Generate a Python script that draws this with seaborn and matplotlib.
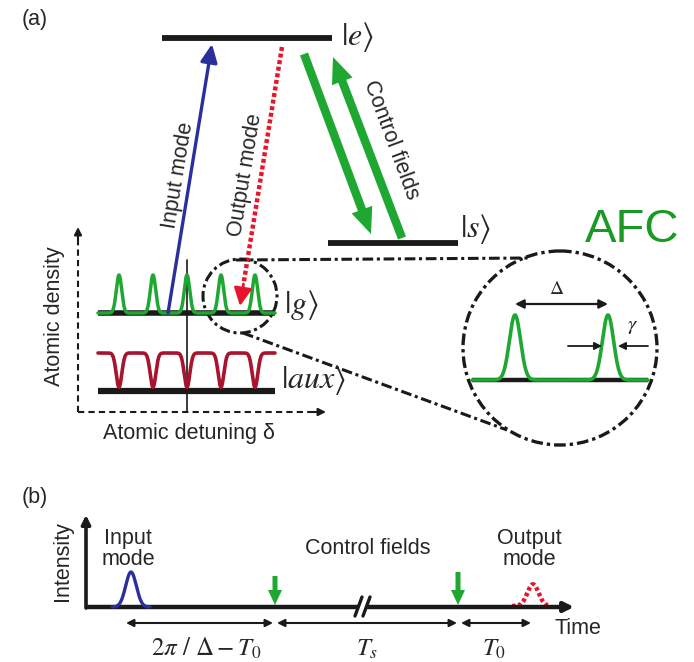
import numpy as np
import matplotlib
matplotlib.use("Agg")
import matplotlib.pyplot as plt
import seaborn as sns
from matplotlib.patches import Circle, FancyArrow

# ---------------- data ----------------
comb_teeth = [-2, -1, 0, 1, 2]          # AFC tooth detunings (units of Delta)
comb_tooth_height = 1.0                 # relative atomic density of a tooth
aux_dip_depth = 0.9                     # relative depth of the |aux> holes
zoom_teeth = [0, 1]                     # two teeth shown in the magnifier
input_pulse_height = 1.0                # panel (b) relative intensities
output_pulse_height = 0.62
level_labels = [r"$|e\rangle$", r"$|s\rangle$", r"$|g\rangle$", r"$|aux\rangle$"]
pulse_labels = ["Input\nmode", "Control fields", "Output\nmode"]
interval_labels = [r"$2\pi\ /\ \Delta - T_0$", r"$T_s$", r"$T_0$"]

# ---------------- style ----------------
sns.set_theme(style="white")
plt.rcParams["font.family"] = ["Liberation Sans", "DejaVu Sans"]
plt.rcParams["mathtext.fontset"] = "stix"

GREEN = "#1ea832"
GREEN_T = "#1a9a22"
BLUE = "#2b2f9c"
RED = "#e8142c"
DRED = "#a8142e"
FS = 15.5

fig = plt.figure(figsize=(6.94, 6.62), dpi=100)
ax = fig.add_axes([0, 0, 1, 1])
ax.set_xlim(0, 694)
ax.set_ylim(662, 0)
ax.axis("off")


def gauss_sum(centers, x0, x1, sigma, n=800):
    x = np.linspace(x0, x1, n)
    y = np.zeros_like(x)
    for c in centers:
        y += np.exp(-0.5 * ((x - c) / sigma) ** 2)
    return x, y


def block_arrow(x0, y0, x1, y1, w, hw, hl, color):
    ax.add_patch(FancyArrow(x0, y0, x1 - x0, y1 - y0, width=w, head_width=hw,
                            head_length=hl, length_includes_head=True,
                            color=color, lw=0))


def line_arrow(x0, y0, x1, y1, style="-|>", lw=1.5, ms=12, color="k"):
    ax.annotate("", xy=(x1, y1), xytext=(x0, y0),
                arrowprops=dict(arrowstyle=style, lw=lw, color=color,
                                mutation_scale=ms, shrinkA=0, shrinkB=0))


# ================= panel (a) =================
ax.text(22, 20, "(a)", fontsize=FS, va="center", ha="left")

# energy levels
ax.plot([162, 332], [38, 38], color="k", lw=4.2, solid_capstyle="butt")
ax.plot([328, 458], [243, 243], color="k", lw=4.2, solid_capstyle="butt")
ax.text(357, 37, level_labels[0], fontsize=23, ha="center", va="center")
ax.text(476, 229, level_labels[1], fontsize=23, ha="center", va="center")

# input / output modes
ax.annotate("", xy=(212, 44), xytext=(168, 313),
            arrowprops=dict(arrowstyle="-|>,head_length=0.6,head_width=0.28",
                            lw=2.4, color=BLUE, mutation_scale=18,
                            shrinkA=0, shrinkB=0))
# dotted output-mode arrow: dotted shaft + solid head
ax.plot([282, 243.5], [47, 284], color=RED, lw=3.2, ls=(0, (0.9, 0.6)),
        solid_capstyle="butt", dash_capstyle="butt")
ax.annotate("", xy=(240, 306), xytext=(243.5, 284),
            arrowprops=dict(arrowstyle="-|>,head_length=0.6,head_width=0.3",
                            lw=2.0, color=RED, mutation_scale=18,
                            shrinkA=0, shrinkB=0))
ax.text(178, 175, "Input mode", fontsize=FS, rotation=80.7,
        rotation_mode="anchor", ha="center", va="center")
ax.text(246, 175, "Output mode", fontsize=FS, rotation=80.8,
        rotation_mode="anchor", ha="center", va="center")

# control fields
block_arrow(304, 54, 371, 234, 8.5, 22, 26, GREEN)
block_arrow(402, 238, 333, 57, 8.5, 22, 26, GREEN)
ax.text(391, 140, "Control fields", fontsize=FS, rotation=-69.6,
        rotation_mode="anchor", ha="center", va="center")

ax.text(632, 230, "AFC", fontsize=34, color=GREEN_T, ha="center", va="center")

# atomic density axes (dashed)
ax.plot([78, 78], [412, 236], color="k", lw=1.5, ls=(0, (3, 2)))
ax.plot([78, 317], [412, 412], color="k", lw=1.5, ls=(0, (3, 2)))
line_arrow(78, 240, 78, 227, ms=11)
line_arrow(313, 412, 326, 412, ms=11)
ax.plot([187, 187], [260, 412], color="k", lw=1.2)
ax.text(55, 316, "Atomic density", fontsize=FS, rotation=90,
        ha="center", va="center")
ax.text(189, 433, "Atomic detuning δ", fontsize=FS, ha="center", va="center")

# |g> comb
tooth_px = [187 + 34 * d for d in comb_teeth]
ax.plot([98, 275], [313, 313], color="k", lw=4, solid_capstyle="butt")
gx, gy = gauss_sum(tooth_px, 98, 275, 2.7)
sns.lineplot(x=gx, y=313 - 38 * comb_tooth_height * gy, ax=ax,
             color=GREEN, lw=2.5, sort=False)
ax.text(301, 305, level_labels[2], fontsize=23, ha="center", va="center")

# |aux> holes
ax.plot([98, 275], [391, 391], color="k", lw=4.5, solid_capstyle="butt")
ax_, ay_ = gauss_sum(tooth_px, 98, 275, 2.8)
sns.lineplot(x=ax_, y=353 + 38 * aux_dip_depth * ay_, ax=ax,
             color=DRED, lw=2.6, sort=False)
ax.text(313, 380, level_labels[3], fontsize=23, ha="center", va="center")

# magnifier
DD = (0, (3.5, 1.2, 1.0, 1.2))
ax.add_patch(Circle((240, 296), 37, fill=False, lw=2.2, ls=DD, color="k"))
ax.add_patch(Circle((560, 348), 97, fill=False, lw=2.4, ls=DD, color="k"))
ax.plot([236, 530], [260, 258], color="k", lw=2.2, ls=DD)
ax.plot([243, 507], [333, 430], color="k", lw=2.2, ls=DD)

zoom_px = [515 + 93 * d for d in zoom_teeth]
ax.plot([472, 648], [380, 380], color="k", lw=3.2, solid_capstyle="butt")
zx, zy = gauss_sum(zoom_px, 472, 648, 5.6)
sns.lineplot(x=zx, y=380 - 65 * comb_tooth_height * zy, ax=ax,
             color=GREEN, lw=2.6, sort=False)
line_arrow(zoom_px[0], 304, zoom_px[1], 304, style="<|-|>", lw=1.6, ms=13)
ax.text(557, 289, r"$\Delta$", fontsize=14, ha="center", va="center")
line_arrow(568, 346, 602, 346, lw=1.3, ms=11)
line_arrow(648, 346, 618, 346, lw=1.3, ms=11)
ax.text(633, 327, r"$\gamma$", fontsize=15, ha="center", va="center")

# ================= panel (b) =================
ax.text(22, 497, "(b)", fontsize=FS, va="center", ha="left")
line_arrow(86, 608, 86, 515, lw=2.6, ms=13)
ax.plot([86, 358], [607, 607], color="k", lw=3.2, solid_capstyle="butt")
line_arrow(368, 607, 574, 607, lw=3.2, ms=14)
ax.plot([355, 362], [616, 597], color="k", lw=2.4)
ax.plot([363, 370], [616, 597], color="k", lw=2.4)
ax.text(63, 561, "Intensity", fontsize=FS, rotation=90, ha="center", va="center")
ax.text(555, 628, "Time", fontsize=FS, ha="left", va="center")

px, py = gauss_sum([131], 112, 150, 5.3)
sns.lineplot(x=px, y=607 - 35 * input_pulse_height * py, ax=ax,
             color=BLUE, lw=2.4, sort=False)
rx, ry = gauss_sum([533], 512, 550, 5.6)
sns.lineplot(x=rx, y=606 - 35 * output_pulse_height * ry, ax=ax,
             color=RED, lw=3.2, sort=False, linestyle=(0, (0.8, 0.6)))

block_arrow(275, 576, 275, 605, 5, 14, 15, GREEN)
block_arrow(458, 572, 458, 605, 5, 14, 15, GREEN)

ax.text(128, 549, pulse_labels[0], fontsize=FS, ha="center", va="center",
        linespacing=1.0)
ax.text(368, 548, pulse_labels[1], fontsize=FS, ha="center", va="center")
ax.text(529, 549, pulse_labels[2], fontsize=FS, ha="center", va="center",
        linespacing=1.0)

line_arrow(126, 623, 273, 623, style="<|-|>", lw=1.5, ms=11)
line_arrow(277, 623, 457, 623, style="<|-|>", lw=1.5, ms=11)
line_arrow(461, 623, 531, 623, style="<|-|>", lw=1.5, ms=11)
ax.text(206, 648, interval_labels[0], fontsize=18, ha="center", va="center")
ax.text(367, 649, interval_labels[1], fontsize=18, ha="center", va="center")
ax.text(494, 649, interval_labels[2], fontsize=18, ha="center", va="center")

ax.set_xlim(0, 694)
ax.set_ylim(662, 0)
fig.savefig("out.png", dpi=100, facecolor="white")
